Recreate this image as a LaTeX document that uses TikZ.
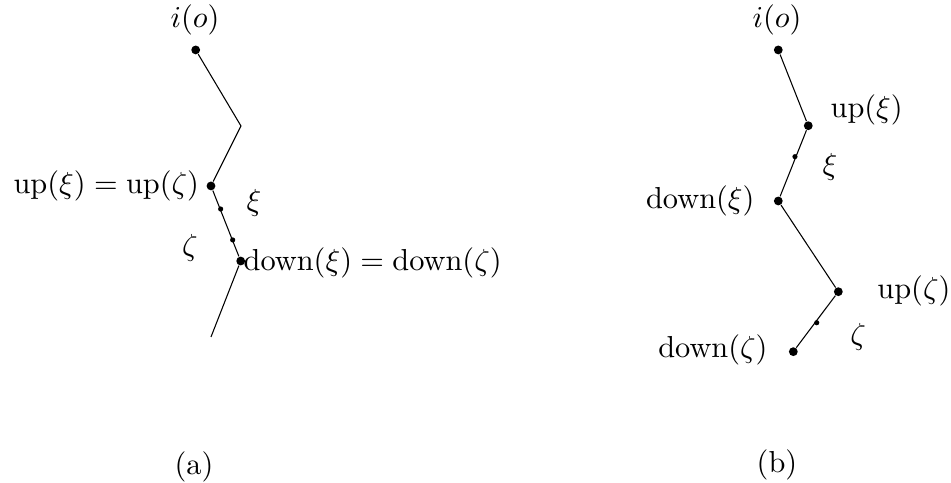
\documentclass[tikz,border=0pt]{standalone}
\usepackage{amsmath, amssymb}
\usetikzlibrary{positioning, calc}

\begin{document}
\begin{tikzpicture}[line width=0.35pt,
    bigdot/.style={circle, fill=black, inner sep=0pt, minimum size=2.9pt},
    smalldot/.style={circle, fill=black, inner sep=0pt, minimum size=1.7pt},
    lbl/.style={inner sep=0pt}]
    \useasboundingbox (0,0) rectangle (11.007,5.590);
    % (a)
    \node[bigdot] (a-io) at (2.265,5.012) {};
    \coordinate (a-bend) at (2.789,4.132);
    \node[bigdot] (a-up) at (2.442,3.438) {};
    \node[smalldot] (a-s1) at (2.554,3.171) {};
    \node[smalldot] (a-s2) at (2.693,2.813) {};
    \node[bigdot] (a-down) at (2.786,2.569) {};
    \coordinate (a-end) at (2.442,1.690);
    \draw (a-io) -- (a-bend) -- (a-up) -- (a-down) -- (a-end);
    \node[lbl] (a-iol) at (2.257,5.359) {$i(o)$};
    \node[lbl, anchor=east] (a-upl) at (2.31,3.438) {$\mathrm{up}(\xi)=\mathrm{up}(\zeta)$};
    \node[lbl, anchor=west] (a-downl) at (2.815,2.545) {$\mathrm{down}(\xi)=\mathrm{down}(\zeta)$};
    \node[lbl] (a-xi) at (2.940,3.241) {$\xi$};
    \node[lbl] (a-zeta) at (2.199,2.720) {$\zeta$};
    \node[lbl] (a-cap) at (2.245,0.185) {(a)};
    % (b)
    \node[bigdot] (b-io) at (9.008,5.012) {};
    \node[bigdot] (b-upxi) at (9.355,4.135) {};
    \node[smalldot] (b-s1) at (9.201,3.777) {};
    \node[bigdot] (b-downxi) at (9.008,3.264) {};
    \node[bigdot] (b-upzeta) at (9.703,2.214) {};
    \node[smalldot] (b-s2) at (9.453,1.855) {};
    \node[bigdot] (b-downzeta) at (9.182,1.520) {};
    \draw (b-io) -- (b-upxi) -- (b-downxi) -- (b-upzeta) -- (b-downzeta);
    \node[lbl] (b-iol) at (8.993,5.359) {$i(o)$};
    \node[lbl] (b-upxil) at (10.031,4.317) {$\mathrm{up}(\xi)$};
    \node[lbl] (b-xi) at (9.606,3.657) {$\xi$};
    \node[lbl, anchor=east] (b-downxil) at (8.738,3.264) {$\mathrm{down}(\xi)$};
    \node[lbl, anchor=west] (b-upzetal) at (10.150,2.222) {$\mathrm{up}(\zeta)$};
    \node[lbl] (b-zeta) at (9.931,1.690) {$\zeta$};
    \node[lbl, anchor=east] (b-downzetal) at (8.889,1.539) {$\mathrm{down}(\zeta)$};
    \node[lbl] (b-cap) at (8.993,0.208) {(b)};
  \end{tikzpicture}
\end{document}
